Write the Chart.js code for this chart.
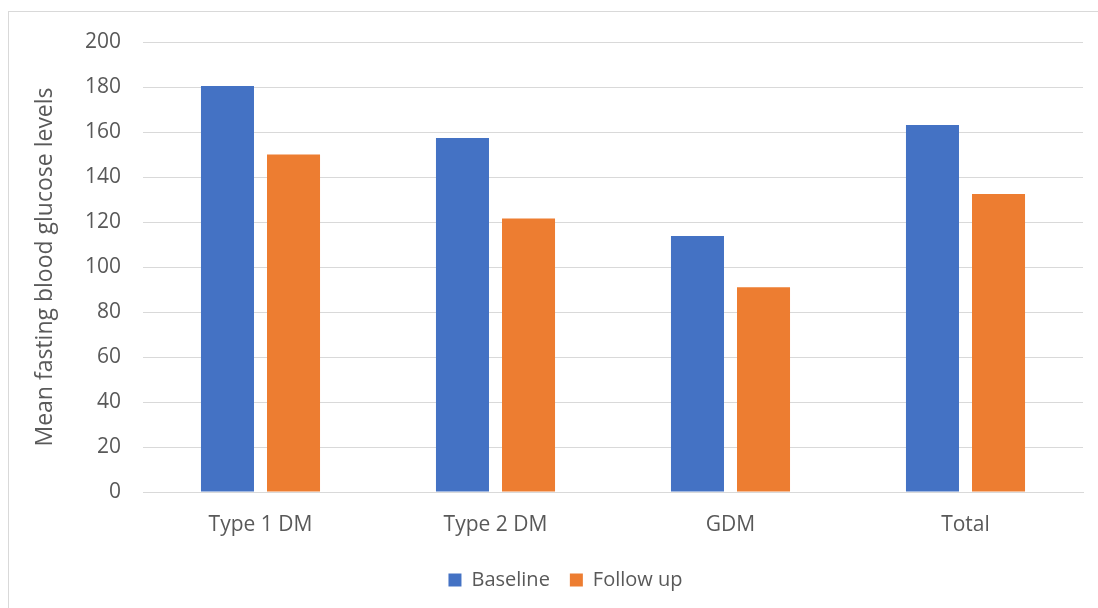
<!DOCTYPE html>
<html>
<head>
<meta charset="utf-8">
<script src="https://cdn.jsdelivr.net/npm/chart.js@4"></script>
<style>
html,body{margin:0;padding:0;background:#fff;}
#wrap{position:relative;width:1098px;height:608px;}
</style>
</head>
<body>
<div id="wrap"><canvas id="c" width="1098" height="608"></canvas></div>
<script>
const categories = ["Type 1 DM", "Type 2 DM", "GDM", "Total"];
const baseline = [180.5, 157.3, 113.8, 163.1];
const followUp = [150, 121.6, 91, 132.4];
const seriesNames = ["Baseline", "Follow up"];
const yTicks = [0, 20, 40, 60, 80, 100, 120, 140, 160, 180, 200];

const FONT = "'Open Sans', sans-serif";
const TXT = "#595959";
const GRID = "#d9d9d9";

const borderPlugin = {
  id: 'outerBorder',
  beforeDraw(chart) {
    const ctx = chart.ctx;
    ctx.save();
    ctx.fillStyle = '#fff';
    ctx.fillRect(0, 0, chart.width, chart.height);
    ctx.strokeStyle = GRID;
    ctx.lineWidth = 1;
    ctx.strokeRect(8.5, 11.5, 1200, 700);
    ctx.restore();
  },
  afterLayout(chart) {
    if (chart.legend) {
      chart.legend.left += 24;
      chart.legend.right += 24;
    }
  }
};

new Chart(document.getElementById('c'), {
  type: 'bar',
  data: {
    labels: categories,
    datasets: [
      { label: seriesNames[0], data: baseline, backgroundColor: '#4472C4' },
      { label: seriesNames[1], data: followUp, backgroundColor: '#ED7D31' }
    ]
  },
  options: {
    responsive: false,
    animation: false,
    devicePixelRatio: 1,
    categoryPercentage: 0.562,
    barPercentage: 0.803,
    layout: { padding: { top: 42, right: 15, left: 0, bottom: 8 } },
    plugins: {
      tooltip: { enabled: false },
      legend: {
        position: 'bottom',
        labels: {
          color: TXT,
          font: { family: FONT, size: 20 },
          boxWidth: 13,
          boxHeight: 13,
          padding: 20,
          useBorderRadius: false
        }
      }
    },
    scales: {
      x: {
        grid: { display: false, drawTicks: false },
        border: { display: true, color: GRID, width: 1 },
        ticks: { color: TXT, font: { family: FONT, size: 21 }, padding: 20 },
        afterFit(scale) { scale.height = 58; }
      },
      y: {
        min: 0,
        max: 200,
        afterBuildTicks(scale) { scale.ticks = yTicks.map(v => ({ value: v })); },
        grid: { color: GRID, lineWidth: 1, drawTicks: false },
        border: { display: false },
        ticks: { color: TXT, font: { family: FONT, size: 21 }, padding: 22 },
        title: {
          display: true,
          text: 'Mean fasting blood glucose levels',
          color: TXT,
          font: { family: FONT, size: 23 },
          padding: { top: 32, bottom: 0 }
        },
        afterFit(scale) { scale.width = 143; }
      }
    }
  },
  plugins: [borderPlugin]
});
</script>
</body>
</html>
